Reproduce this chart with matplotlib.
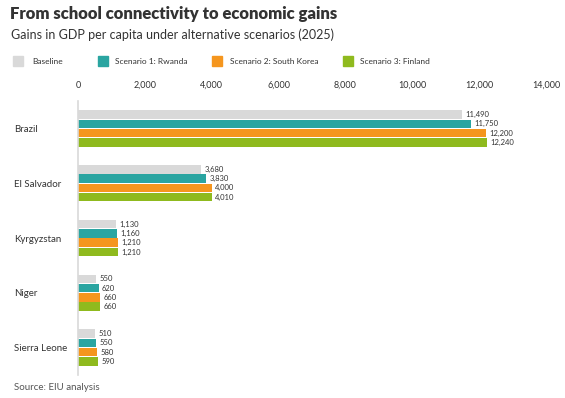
import numpy as np
import matplotlib.pyplot as plt
from matplotlib.patches import Rectangle

countries = ['Brazil', 'El Salvador', 'Kyrgyzstan', 'Niger', 'Sierra Leone']
series = ['Baseline', 'Scenario 1: Rwanda', 'Scenario 2: South Korea', 'Scenario 3: Finland']
baseline = [11490, 3680, 1130, 550, 510]
rwanda = [11750, 3830, 1160, 620, 550]
korea = [12200, 4000, 1210, 660, 580]
finland = [12240, 4010, 1210, 660, 590]
colors = ['#d9d9d9', '#2aa5a1', '#f5961e', '#8fba1e']
xticks = [0, 2000, 4000, 6000, 8000, 10000, 12000, 14000]

plt.rcParams['font.family'] = ['Lato', 'DejaVu Sans']

W, H = 565, 398
fig = plt.figure(figsize=(W / 100, H / 100), dpi=100)
ax = fig.add_axes([78 / W, 0.058, (546 - 78) / W, 0.688])

y = np.arange(len(countries))
step = 0.17
for i, (vals, c) in enumerate(zip([baseline, rwanda, korea, finland], colors)):
    pos = y - 1.5 * step + i * step
    ax.barh(pos, vals, height=0.155, color=c)
    for p, v in zip(pos, vals):
        ax.text(v + 100, p, f'{v:,}', va='center', ha='left', fontsize=5.5, color='#333333')

ax.set_ylim(4.5, -0.5)
ax.set_xlim(0, 14000)
ax.set_yticks(y)
ax.set_yticklabels(countries, fontsize=7, color='#333333')
ax.set_xticks(xticks)
ax.set_xticklabels([f'{t:,}' for t in xticks], fontsize=6.5, color='#333333')
ax.get_xticklabels()[-1].set_horizontalalignment('right')
ax.xaxis.tick_top()
ax.tick_params(axis='x', length=0, pad=8)
ax.tick_params(axis='y', length=0, pad=46)
for lab in ax.get_yticklabels():
    lab.set_horizontalalignment('left')
for s in ['top', 'right', 'bottom']:
    ax.spines[s].set_visible(False)
ax.spines['left'].set_color('#d9d9d9')
ax.spines['left'].set_linewidth(1.2)

fig.text(10 / W, 1 - 14 / H, 'From school connectivity to economic gains', fontsize=12,
         fontweight='heavy', color='#333333', va='center')
fig.text(11 / W, 1 - 35 / H, 'Gains in GDP per capita under alternative scenarios (2025)',
         fontsize=9, color='#333333', va='center')
fig.text(14 / W, 1 - 388 / H, 'Source: EIU analysis', fontsize=7, color='#555555', va='center')

# legend drawn by hand to match the spacing
box_x = [13, 98, 212, 343]
text_x = [32, 115, 230, 360]
ly = 61
for bx, tx, c, name in zip(box_x, text_x, colors, series):
    fig.patches.append(Rectangle((bx / W, 1 - (ly + 5) / H), 10 / W, 10 / H,
                                 transform=fig.transFigure, color=c))
    fig.text(tx / W, 1 - ly / H, name, fontsize=6, color='#333333', va='center')

fig.savefig('out.png', dpi=100)
